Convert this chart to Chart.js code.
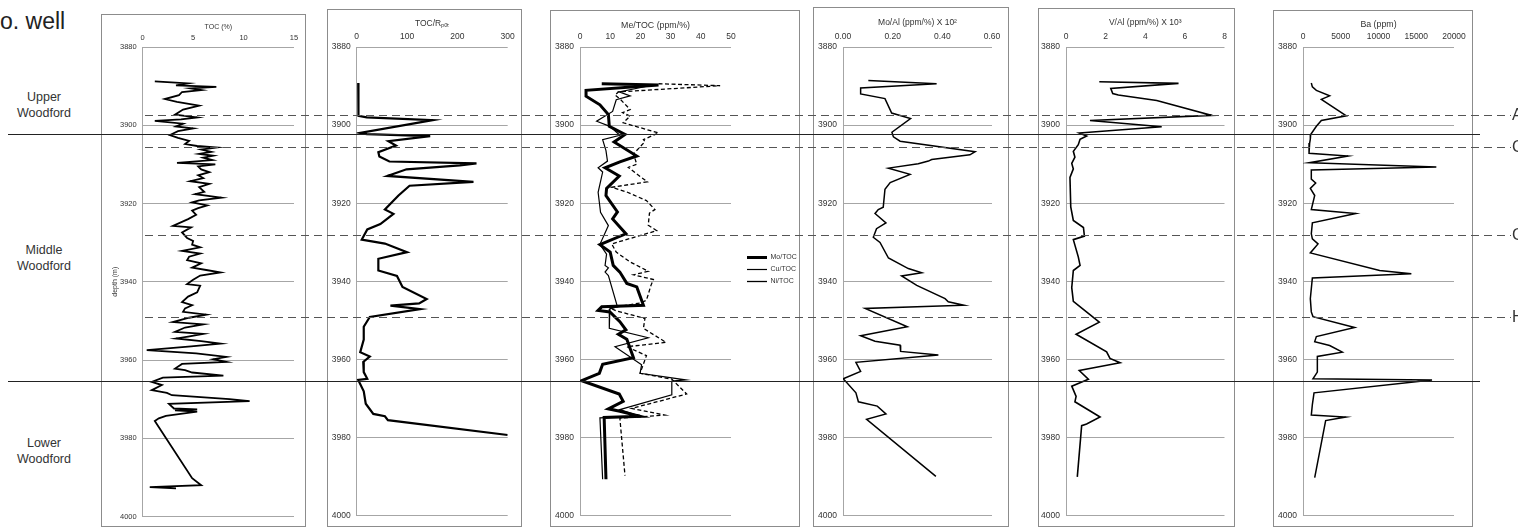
<!DOCTYPE html>
<html>
<head>
<meta charset="utf-8">
<script src="https://cdn.jsdelivr.net/npm/chart.js@4.4.0/dist/chart.umd.min.js"></script>
<style>
  body { margin: 0; background: #fff; width: 1518px; height: 529px; overflow: hidden; position: relative;
         font-family: "Liberation Sans", Arial, sans-serif; }
  .box { position: absolute; border: 1px solid #8c8c8c; box-sizing: border-box; }
  .cv { position: absolute; }
  .unit { position: absolute; width: 90px; text-align: center; font-size: 12.5px; line-height: 16px; color: #333; }
</style>
</head>
<body>
<div style="position:absolute;left:0;top:8px;font-size:23px;color:#222">o. well</div>
<div class="unit" style="left:-1px;top:89px">Upper<br>Woodford</div>
<div class="unit" style="left:-1px;top:242px">Middle<br>Woodford</div>
<div class="unit" style="left:-1px;top:435px">Lower<br>Woodford</div>
<canvas id="overlay" class="cv" width="1518" height="529" style="left:0;top:0;z-index:5;pointer-events:none"></canvas>

<script>
// ---- data (depth in m, value on x) ----
const depthTicks = [3880, 3900, 3920, 3940, 3960, 3980, 4000];

const tocDepth = [3888.8,3889.3,3889.8,3890.2,3890.6,3891.0,3891.5,3892.3,3893.3,3894.0,3895.0,3896.0,3897.3,3898.0,3898.5,3898.9,3899.6,3900.3,3900.8,3901.5,3902.5,3903.2,3904.0,3904.8,3905.3,3905.7,3906.2,3906.8,3907.3,3907.8,3908.3,3908.9,3909.6,3910.0,3910.5,3911.3,3912.0,3912.8,3913.5,3914.3,3915.0,3915.8,3917.0,3917.6,3918.5,3919.2,3919.7,3920.5,3921.2,3921.8,3922.9,3924.0,3925.7,3926.1,3927.4,3928.8,3929.6,3930.5,3931.2,3932.1,3932.8,3933.6,3934.5,3935.3,3936.4,3937.0,3937.6,3938.4,3939.5,3940.6,3941.0,3942.7,3943.8,3945.2,3946.0,3946.8,3947.7,3948.4,3949.2,3950.3,3950.9,3951.7,3952.8,3953.3,3954.0,3954.5,3955.2,3955.8,3956.5,3957.5,3958.3,3959.2,3959.8,3960.5,3961.0,3962.2,3962.6,3963.2,3964.0,3964.5,3965.6,3966.4,3967.7,3968.4,3969.0,3970.0,3970.5,3971.2,3972.4,3972.6,3972.9,3973.2,3974.3,3974.9,3975.6,3990.2,3992.0,3992.5,3992.8];
const tocVal   = [1.2,4.5,3.3,7.3,4.8,5.8,3.9,3.6,2.2,3.4,5.6,4.0,3.2,5.4,3.8,1.2,4.0,3.3,5.0,3.5,2.7,3.5,4.6,4.2,5.4,7.3,5.8,6.8,5.6,7.0,6.0,6.9,3.4,7.2,5.5,5.8,6.6,5.5,6.0,4.7,6.6,5.6,6.1,5.2,7.8,5.6,4.9,6.4,5.5,4.9,5.3,4.5,3.0,4.8,3.9,4.4,5.0,4.9,5.7,3.9,5.7,4.6,4.4,5.8,4.9,6.3,7.7,5.7,5.0,4.4,5.7,5.4,4.5,3.9,4.9,4.2,4.0,6.3,4.6,3.0,6.0,4.2,3.2,6.0,4.5,3.3,5.8,7.7,4.8,0.4,5.3,8.3,7.0,8.3,3.9,3.2,4.2,4.9,8.0,2.0,0.9,1.9,0.9,2.4,2.9,8.6,10.6,2.6,3.1,5.4,3.2,5.4,2.3,1.6,1.2,4.9,5.8,0.7,3.3];

const rpotDepth = [3889.2,3889.9,3897.6,3898.0,3898.7,3902.0,3902.3,3902.8,3904.1,3905.2,3906.9,3908.0,3909.3,3909.8,3910.3,3911.3,3913.0,3914.5,3915.5,3918.0,3921.6,3922.7,3925.3,3926.7,3929.3,3930.3,3932.5,3934.2,3937.2,3938.6,3941.4,3944.5,3945.6,3946.2,3947.1,3949.1,3951.6,3954.9,3958.1,3959.2,3960.6,3963.2,3964.9,3965.2,3968.1,3971.3,3973.9,3974.5,3975.5,3979.3];
const rpotVal   = [3,4,3,20,151,7,20,146,63,78,43,45,65,238,205,99,61,232,105,83,56,73,47,21,10,56,100,43,43,80,91,139,124,67,126,26,14,14,7,26,13,14,21,3,14,18,33,56,62,300];

const moTocDepth = [3889.4,3889.7,3891.1,3892.6,3894.8,3897.3,3900.3,3902.4,3904.3,3907.9,3909.4,3910.9,3913.0,3916.2,3918.0,3922.2,3924.0,3927.8,3930.6,3932.5,3935.9,3937.6,3940.5,3941.4,3946.1,3946.5,3947.4,3947.8,3950.3,3952.4,3953.5,3954.8,3959.5,3961.2,3963.5,3965.4,3968.8,3970.7,3972.6,3973.2,3974.5,3974.8,3990.6];
const moTocVal   = [7.2,26,2,2,6.6,9.4,9.7,14.9,11.3,18.8,13.2,8.3,13.0,8.8,8.6,12.4,10.8,15.2,6.6,10.0,11.0,13.2,15.5,18.8,21.0,7.2,6.0,9.9,13.2,15.2,12.7,15.5,17.7,7.5,6.4,0.5,13.0,14.3,9.4,13.2,19.9,8.0,8.6];
const cuTocDepth = [3889.6,3891.5,3892.5,3893.5,3896.5,3899.0,3900.3,3902.6,3903.7,3906.5,3909.2,3910.9,3912.0,3917.2,3922.3,3925.7,3930.5,3933.0,3935.9,3936.5,3937.6,3938.5,3946.5,3947.0,3952.0,3954.4,3956.7,3961.3,3963.5,3964.7,3965.2,3965.5,3969.0,3972.8,3974.5,3974.9,3990.6];
const cuTocVal   = [25,13,16.6,12,10.8,5.5,9.9,13.2,7.5,8.6,9.1,6.0,7.5,6.0,6.8,9.4,6.6,8.8,8.3,9.4,8.3,9.4,12.4,9.9,9.7,22.6,11.6,20.4,19.9,30.4,35.0,30.4,30.4,13.2,19.9,6.6,7.5];
const niTocDepth = [3889.4,3889.9,3891.5,3892.3,3893.5,3896.0,3896.8,3897.7,3899.4,3902.0,3903.7,3904.2,3907.4,3910.0,3910.8,3912.5,3914.5,3915.9,3917.1,3919.3,3921.6,3922.5,3925.6,3927.0,3929.0,3930.4,3932.5,3935.0,3937.4,3938.3,3939.5,3941.0,3944.8,3945.5,3946.8,3947.5,3949.5,3952.0,3955.6,3956.7,3959.0,3963.5,3965.0,3968.8,3972.5,3974.2,3975.0,3989.7];
const niTocVal   = [26,46.4,12.7,11.6,13.5,16.6,14.1,16.6,14.3,26,21,21.5,17.7,18.8,16,18.8,22.3,10.5,15.5,22,24.8,23,22.6,25.4,16.6,10.5,12,16.6,22.6,17.7,24.3,23.5,22,20,9.9,12,21.5,21,28.5,15.5,22,19.9,30.4,35.3,17.1,28.1,13.2,14.9];

const moAlDepth = [3888.6,3889.4,3890.5,3892.0,3893.2,3896.9,3898.3,3901.8,3903.0,3904.1,3906.8,3907.6,3908.8,3909.2,3909.9,3911.0,3912.6,3914.7,3916.4,3921.0,3921.6,3922.6,3925.0,3926.5,3928.7,3930.0,3934.0,3936.7,3937.8,3938.6,3941.0,3944.4,3945.2,3946.1,3946.9,3951.6,3953.9,3955.3,3956.3,3957.9,3958.8,3960.7,3963.0,3964.9,3968.5,3970.8,3971.9,3973.9,3975.3,3989.9];
const moAlVal   = [0.102,0.377,0.071,0.071,0.169,0.196,0.272,0.197,0.203,0.23,0.532,0.511,0.357,0.344,0.303,0.183,0.27,0.19,0.169,0.162,0.142,0.129,0.173,0.135,0.122,0.149,0.183,0.263,0.317,0.236,0.297,0.411,0.424,0.487,0.089,0.259,0.071,0.129,0.23,0.232,0.384,0.052,0.071,0.001,0.052,0.062,0.138,0.173,0.095,0.374];

const vAlDepth = [3888.9,3889.3,3890.6,3891.9,3892.3,3893.7,3897.5,3898.8,3900.4,3902.0,3902.8,3903.6,3905.0,3906.7,3908.2,3909.8,3911.2,3913.4,3920.9,3924.4,3926.2,3928.4,3929.3,3933.7,3935.9,3937.2,3941.6,3945.1,3950.4,3953.5,3958.0,3959.7,3960.8,3962.8,3965.0,3966.8,3969.4,3970.8,3974.7,3976.5,3976.9,3990.0];
const vAlVal   = [1.68,5.68,2.26,2.36,2.64,4.58,7.36,1.21,4.83,0.67,1.04,0.71,0.62,0.37,0.45,0.29,0.37,0.2,0.24,0.37,0.88,0.93,0.37,0.62,0.71,0.37,0.29,0.37,1.68,0.51,2.05,2.22,2.73,0.67,1.13,0.29,0.51,0.45,1.72,1.04,0.79,0.57];

const baDepth = [3889.2,3890.2,3891.1,3892.5,3893.4,3897.6,3898.8,3900.3,3902.4,3903.6,3904.6,3907.2,3907.9,3909.6,3910.7,3911.5,3913.8,3914.8,3916.2,3918.0,3921.6,3922.6,3925.0,3927.8,3929.1,3930.4,3932.7,3937.2,3938.0,3939.1,3944.4,3947.8,3949.0,3951.8,3954.1,3955.4,3956.4,3958.1,3959.2,3963.2,3964.9,3965.2,3968.5,3971.5,3974.2,3974.7,3975.6,3990.2];
const baVal   = [1100,1240,1770,3530,2430,5740,2430,1770,1015,970,880,800,5960,880,17660,1100,1100,1680,970,1550,1100,6980,1240,1100,1240,1990,970,10150,14350,1240,970,1100,1320,6840,1770,1550,3530,5210,1900,1900,1320,17090,1460,1240,1100,5650,3000,1550];

// boundaries that run across all tracks
const solidDepths  = [3902.2, 3965.0];
const dashedDepths = [3897.3, 3905.4, 3928.0, 3948.9];
const dashedLabels = ['A', 'C', 'G', 'H'];

// ---- layout of the six tracks ----
const TOP = 8, H = 519;          // canvas top / height (page px)
const tracks = [
  { L: 101,  R: 306,  T: 14, pL: 142.7, pR: 294,   fs: 7.5, ts: 7,   tY: 27.5, title: 'TOC (%)',             min: 0, max: 15,    step: 5 },
  { L: 327,  R: 522,  T: 9,  pL: 356.7, pR: 507.7, fs: 8.5, ts: 8.5, tY: 24,   title: 'TOC/R\u209A\u2092\u209C', min: 0, max: 300, step: 100 },
  { L: 550,  R: 800,  T: 10, pL: 580,   pR: 731,   fs: 8.5, ts: 8.8, tY: 25.5, title: 'Me/TOC (ppm/%)',      min: 0, max: 50,    step: 10 },
  { L: 813,  R: 1009, T: 7,  pL: 843,   pR: 992,   fs: 8.5, ts: 8.5, tY: 22.5, title: 'Mo/Al (ppm/%) X 10\u00B2', min: 0, max: 0.6, step: 0.2 },
  { L: 1038, R: 1235, T: 8,  pL: 1066,  pR: 1224.5,fs: 8.5, ts: 8.5, tY: 23,   title: 'V/Al (ppm/%) X 10\u00B3',  min: 0, max: 8,  step: 2 },
  { L: 1273, R: 1473, T: 10, pL: 1303,  pR: 1454,  fs: 8.5, ts: 8.8, tY: 24.5, title: 'Ba (ppm)',            min: 0, max: 20000, step: 5000 }
];
const LEGEND_W = 54, LEGEND_GAP = 11;

function pts(d, v) { return d.map((y, i) => ({ x: v[i], y: y })); }
function line(label, d, v, w, dash) {
  return { label: label, data: pts(d, v), showLine: true, pointRadius: 0, borderColor: '#000',
           backgroundColor: '#000', borderWidth: w, borderDash: dash || [], tension: 0 };
}

const trackData = [
  [line('TOC', tocDepth, tocVal, 1.8)],
  [line('TOC/Rpot', rpotDepth, rpotVal, 2.2)],
  [line('Mo/TOC', moTocDepth, moTocVal, 3), line('Cu/TOC', cuTocDepth, cuTocVal, 1.2), line('Ni/TOC', niTocDepth, niTocVal, 1.3, [4, 2.5])],
  [line('Mo/Al', moAlDepth, moAlVal, 1.5)],
  [line('V/Al', vAlDepth, vAlVal, 1.6)],
  [line('Ba', baDepth, baVal, 1.5)]
];

Chart.defaults.font.family = '"Liberation Sans", Arial, sans-serif';
Chart.defaults.color = '#333';

// moves the legend a little away from the plot and keeps its text unclipped
const legendShift = {
  id: 'legendShift',
  afterLayout(chart) {
    const lg = chart.legend;
    if (!lg) return;
    lg.left += LEGEND_GAP;
    lg.right += LEGEND_GAP + 20;
    lg.width += 20;
  }
};

tracks.forEach((t, i) => {
  const box = document.createElement('div');
  box.className = 'box';
  box.style.cssText = `left:${t.L}px;top:${t.T}px;width:${t.R - t.L}px;height:${527 - t.T}px`;
  document.body.appendChild(box);

  const cv = document.createElement('canvas');
  cv.className = 'cv';
  cv.width = t.R - t.L; cv.height = H;
  cv.style.cssText = `left:${t.L}px;top:${TOP}px;z-index:2`;
  document.body.appendChild(cv);

  const hasLegend = i === 2;
  const padTop = hasLegend ? 13 : 0;
  const axisH = 39 - padTop;
  const yW = t.pL - t.L;
  const titlePad = (t.tY - TOP) - padTop - t.ts * 1.2 / 2;
  const padRight = hasLegend ? (t.R - t.pR) - LEGEND_W : t.R - t.pR;

  new Chart(cv, {
    type: 'scatter',
    data: { datasets: trackData[i] },
    options: {
      responsive: false, animation: false, devicePixelRatio: 1,
      layout: { padding: { left: 0, top: padTop, bottom: H - 510, right: padRight } },
      plugins: {
        tooltip: { enabled: false },
        legend: hasLegend ? {
          display: true, position: 'right', align: 'center', maxWidth: LEGEND_W,
          labels: {
            usePointStyle: true, pointStyle: 'line', pointStyleWidth: 20, boxHeight: 7,
            font: { size: 7 }, color: '#333', padding: 5
          }
        } : { display: false }
      },
      scales: {
        x: {
          type: 'linear', position: 'top', min: t.min, max: t.max,
          ticks: { stepSize: t.step, autoSkip: false, maxRotation: 0, padding: 5, font: { size: t.fs }, color: '#333',
                   callback: v => t.max < 1 ? v.toFixed(2) : String(v) },
          grid: { display: false, drawTicks: false },
          border: { display: false },
          title: { display: true, text: t.title, font: { size: t.ts }, color: '#333', padding: { top: titlePad, bottom: 0 } },
          afterFit: s => { s.height = axisH; }
        },
        y: {
          type: 'linear', reverse: true, min: depthTicks[0], max: depthTicks[depthTicks.length - 1],
          afterBuildTicks: s => { s.ticks = depthTicks.map(v => ({ value: v })); },
          ticks: { padding: 6, font: { size: t.fs }, color: '#333', callback: v => String(v) },
          grid: { color: '#a6a6a6', lineWidth: 1, drawTicks: false },
          border: { color: '#a6a6a6', width: 1 },
          title: { display: i === 0, text: 'depth (m)', font: { size: 7 }, color: '#333', padding: { top: 10, bottom: 0 } },
          afterFit: s => { s.width = yW; }
        }
      }
    },
    plugins: hasLegend ? [legendShift] : []
  });
});

// ---- horizontal boundary lines across all tracks ----
const boundaryPlugin = {
  id: 'boundaries',
  afterDraw(chart) {
    const ctx = chart.ctx, y = chart.scales.y;
    ctx.save();
    ctx.lineWidth = 1;
    ctx.strokeStyle = '#222';
    solidDepths.forEach(d => {
      const py = Math.round(y.getPixelForValue(d)) + 0.5;
      ctx.beginPath(); ctx.moveTo(8, py); ctx.lineTo(1480, py); ctx.stroke();
    });
    ctx.strokeStyle = '#555';
    ctx.setLineDash([8, 5]);
    ctx.fillStyle = '#333';
    ctx.font = '16px "Liberation Sans", Arial, sans-serif';
    ctx.textBaseline = 'middle';
    dashedDepths.forEach((d, i) => {
      const py = Math.round(y.getPixelForValue(d)) + 0.5;
      ctx.beginPath(); ctx.moveTo(145, py); ctx.lineTo(1511, py); ctx.stroke();
      ctx.fillText(dashedLabels[i], 1512, py);
    });
    ctx.restore();
  }
};

new Chart(document.getElementById('overlay'), {
  type: 'scatter',
  data: { datasets: [] },
  options: {
    responsive: false, animation: false, devicePixelRatio: 1,
    layout: { padding: { top: 47, bottom: 11, left: 0, right: 0 } },
    plugins: { legend: { display: false }, tooltip: { enabled: false } },
    scales: {
      x: { display: false, min: 0, max: 1 },
      y: { display: false, reverse: true, min: depthTicks[0], max: depthTicks[depthTicks.length - 1] }
    }
  },
  plugins: [boundaryPlugin]
});
</script>
</body>
</html>
